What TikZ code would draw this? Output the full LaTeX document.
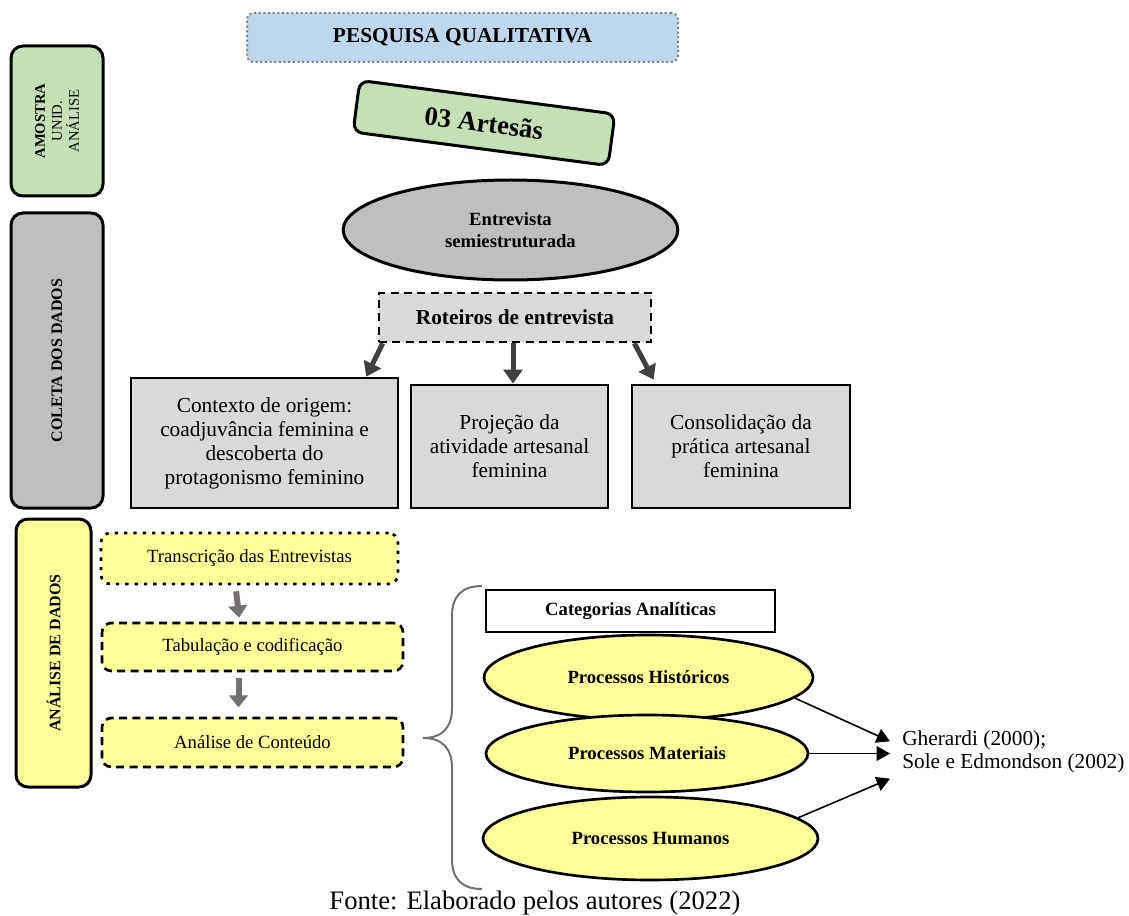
\documentclass[tikz,border=0pt]{standalone}
\usepackage{fontspec}
\setmainfont{Liberation Serif}
\usetikzlibrary{arrows.meta,shapes.geometric}
\definecolor{titleblue}{RGB}{189,215,238}
\definecolor{samplegreen}{RGB}{197,224,180}
\definecolor{coletagray}{RGB}{191,191,191}
\definecolor{boxgray}{RGB}{217,217,217}
\definecolor{paleyellow}{RGB}{255,255,153}
\definecolor{arrowdark}{RGB}{64,64,64}
\definecolor{arrowgray}{RGB}{118,113,113}
\definecolor{bracegray}{RGB}{112,112,112}

\tikzset{
  sidebar/.style={draw=black, line width=2.25pt, rounded corners=9pt, rotate=90, align=center},
  topicbox/.style={draw=black, line width=2pt, fill=boxgray, align=center, font=\fontsize{16}{18}\selectfont},
  stagebox/.style={draw=black, line width=2pt, fill=paleyellow, rounded corners=7pt, font=\fontsize{14}{16}\selectfont},
  catellipse/.style={ellipse, draw=black, line width=2pt, fill=paleyellow, inner sep=0pt, font=\bfseries\fontsize{14}{16}\selectfont},
  bigarrow/.style={arrowdark, line width=3.75pt, -{Triangle[width=14pt,length=10.5pt]}},
  grayarrow/.style={arrowgray, line width=4.5pt, -{Triangle[width=14pt,length=9pt]}},
  refarrow/.style={black, line width=1.2pt, -{Triangle[width=11pt,length=10pt]}},
}

\begin{document}
\begin{tikzpicture}[x=0.75pt,y=-0.75pt]
  \useasboundingbox (0,0) rectangle (1129,916);

  % Left bars
  \node[sidebar, fill=samplegreen, minimum width=112.5pt, minimum height=69pt,
        font=\fontsize{11}{12.75}\selectfont] (amostra) at (57,121) {\textbf{AMOSTRA}\\UNID.\\ANÁLISE};
  \node[sidebar, fill=coletagray, minimum width=221.25pt, minimum height=69pt,
        font=\bfseries\fontsize{12}{14}\selectfont] (coleta) at (57,360.5) {COLETA DOS DADOS};
  \node[sidebar, fill=paleyellow, minimum width=201pt, minimum height=56.25pt,
        font=\bfseries\fontsize{12}{14}\selectfont] (analise) at (53.5,653) {ANÁLISE DE DADOS};

  % Title and sample
  \node[draw=gray, line width=1.5pt, dash pattern=on 1.5pt off 2pt, rounded corners=5pt, fill=titleblue,
        minimum width=323.25pt, minimum height=36.75pt, font=\bfseries\fontsize{16}{18}\selectfont] (title) at (462.5,37.5) {PESQUISA QUALITATIVA};
  \node[draw=black, line width=2.25pt, rounded corners=7pt, fill=samplegreen, rotate=-7.5,
        minimum width=193pt, minimum height=39pt, font=\bfseries\fontsize{20}{22}\selectfont] (artesas) at (484,123) {03 Artesãs};

  % Data collection
  \node[ellipse, draw=black, line width=2.25pt, fill=coletagray, inner sep=0pt, minimum width=251pt, minimum height=75pt,
        align=center, font=\bfseries\fontsize{14}{17}\selectfont] (entrevista) at (510.5,230) {Entrevista\\semiestruturada};
  \node[draw=black, line width=2pt, dash pattern=on 6pt off 4pt, fill=boxgray, minimum width=204pt, minimum height=36.75pt,
        font=\bfseries\fontsize{16}{18}\selectfont] (roteiros) at (515,317.5) {Roteiros de entrevista};

  \node[topicbox, minimum width=200.25pt, minimum height=97.5pt] (contexto) at (264.5,443)
    {Contexto de origem:\\coadjuvância feminina e\\descoberta do\\protagonismo feminino};
  \node[topicbox, minimum width=147.75pt, minimum height=92.25pt] (projecao) at (509.5,446.5)
    {Projeção da\\atividade artesanal\\feminina};
  \node[topicbox, minimum width=163.5pt, minimum height=92.25pt] (consolidacao) at (741,446.5)
    {Consolidação da\\prática artesanal\\feminina};

  \draw[bigarrow] ([xshift=3.75pt]roteiros.south west) -- ([xshift=-24.75pt]contexto.north east);
  \draw[bigarrow] ([xshift=-1.5pt]roteiros.south) -- ([xshift=-1.5pt]roteiros.south |- projecao.north);
  \draw[bigarrow] ([xshift=-13.5pt]roteiros.south east) -- ([xshift=17.25pt,yshift=3pt]consolidacao.north west);

  % Data analysis
  \node[stagebox, dash pattern=on 2.5pt off 4.5pt, minimum width=222.75pt, minimum height=38.25pt] (transcricao) at (249.5,558.5) {Transcrição das Entrevistas};
  \node[stagebox, dash pattern=on 6pt off 4pt, minimum width=225.75pt, minimum height=36pt] (tabulacao) at (252.5,647) {Tabulação e codificação};
  \node[stagebox, dash pattern=on 6pt off 4pt, minimum width=225.75pt, minimum height=36.75pt] (conteudo) at (252.5,742.5) {Análise de Conteúdo};

  \draw[grayarrow] ([xshift=-10pt,yshift=-4.5pt]transcricao.south) -- ([xshift=-10pt,yshift=3pt]tabulacao.north);
  \draw[grayarrow] ([xshift=-10.5pt,yshift=-4pt]tabulacao.south) -- ([xshift=-10.5pt,yshift=7pt]conteudo.north);

  % Brace
  \draw[bracegray, line width=1.5pt] (482,586) .. controls (462,586) and (452,596) .. (452,616) -- (452,708)
    .. controls (452,728) and (442,738) .. (423,738) .. controls (442,738) and (452,748) .. (452,768) -- (452,859)
    .. controls (452,879) and (462,889) .. (482,889);

  % Categories
  \node[draw=black, line width=1.2pt, fill=white, minimum width=216.75pt, minimum height=31.5pt,
        font=\bfseries\fontsize{14}{16}\selectfont] (categorias) at (630.5,611) {Categorias Analíticas};
  \node[catellipse, minimum width=246.75pt, minimum height=63.75pt] (historicos) at (648.5,677.5) {Processos Históricos};
  \node[catellipse, minimum width=241.5pt, minimum height=57.75pt] (materiais) at (647,753.5) {Processos Materiais};
  \node[catellipse, minimum width=251.25pt, minimum height=62.25pt] (humanos) at (650.5,838.5) {Processos Humanos};

  \node[anchor=west, align=left, inner sep=0pt, font=\fontsize{16}{17.5}\selectfont] (autores) at (902,752)
    {Gherardi (2000);\\Sole e Edmondson (2002)};
  \coordinate (reftip) at ([xshift=-9pt]autores.west);

  \draw[refarrow] (historicos.-8) -- ([yshift=8pt]reftip);
  \draw[refarrow] (materiais.east) -- (materiais.east -| reftip);
  \draw[refarrow] (humanos.8) -- ([yshift=-20pt]reftip);

  % Source
  \node[font=\fontsize{20}{22}\selectfont, inner sep=0pt] (fonte) at (535,903) {Fonte: Elaborado pelos autores (2022)};
\end{tikzpicture}
\end{document}
